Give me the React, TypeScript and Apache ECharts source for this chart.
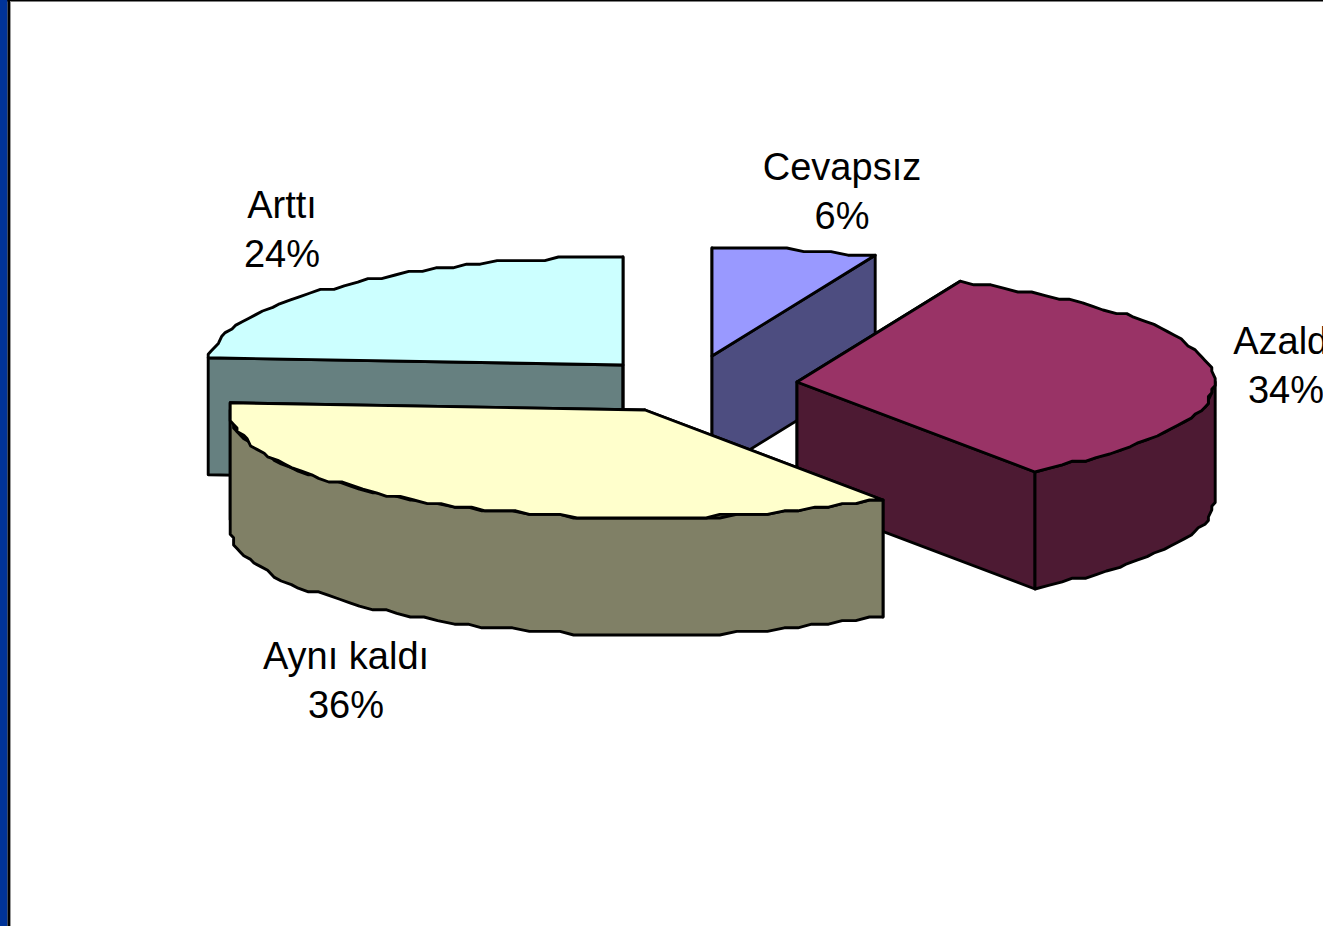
import React, { useEffect, useRef } from "react";
import * as echarts from "echarts";

// Paint order runs from the back of the exploded pie to the front.
const categories = ["Arttı", "Cevapsız", "Azaldı", "Aynı kaldı"];
const shares = [24, 6.4, 33.9, 35.7];
const percentLabels = ["24%", "6%", "34%", "36%"];

const topColors = ["#CCFFFF", "#9999FF", "#993366", "#FFFFCC"];
const sideColors = ["#668080", "#4D4D80", "#4D1A33", "#808066"];
const apexes = [
  [623, 365],
  [712, 356],
  [797, 382],
  [645, 410],
];
const labelCentres = [
  [282, 229.5],
  [842, 191.5],
  [1286, 365.5],
  [346, 680.5],
];

const RX_RIGHT = 417.5;
const RX_LEFT = 415.4;
const RY = 108;
const DEPTH = 117;
const STEP_DEG = 2.25;
const SNAP_X = 3.4;
const SNAP_Y = 3.6;
const W = 1323;
const H = 926;
const total = shares.reduce((a, b) => a + b, 0);
const firstAngle = (-360 * shares[0]) / total;

const rimPoint = (apex: number[], deg: number) => {
  const r = (deg * Math.PI) / 180;
  const sin = Math.sin(r);
  const dx = (sin < 0 ? RX_LEFT : RX_RIGHT) * sin;
  const dy = -RY * Math.cos(r);
  return [
    apex[0] + Math.round(dx / SNAP_X) * SNAP_X,
    apex[1] + Math.round(dy / SNAP_Y) * SNAP_Y,
  ];
};

const arcPoints = (apex: number[], from: number, to: number) => {
  const pts: number[][] = [];
  const n = Math.max(1, Math.ceil((to - from) / STEP_DEG));
  for (let i = 0; i <= n; i++) pts.push(rimPoint(apex, from + ((to - from) * i) / n));
  return pts;
};

const stroke = { stroke: "#000", lineWidth: 2.9, lineJoin: "round" as const };

const renderSlice = (params: any, api: any) => {
  const i = params.dataIndex;
  const value = api.value(0);
  const apex = apexes[i];
  let before = 0;
  for (let k = 0; k < i; k++) before += shares[k];
  const start = firstAngle + (360 * before) / total;
  const end = start + (360 * value) / total;

  const side = { fill: sideColors[i], ...stroke };
  const down = (p: number[]) => [p[0], p[1] + DEPTH];
  const cutFace = (deg: number) => {
    const p = rimPoint(apex, deg);
    return {
      type: "polygon",
      shape: { points: [apex, p, down(p), down(apex)] },
      style: side,
    };
  };

  const children: any[] = [cutFace(start), cutFace(end)];

  // The outer wall shows only on the front half of the ellipse.
  const norm = (d: number) => ((d % 360) + 360) % 360;
  const s = norm(start);
  const e = s + (end - start);
  const rimFrom = Math.max(s, 90);
  const rimTo = Math.min(e, 270);
  if (rimTo > rimFrom) {
    const arc = arcPoints(apex, rimFrom, rimTo);
    children.push({
      type: "polygon",
      shape: { points: [...arc, ...arc.slice().reverse().map(down)] },
      style: side,
    });
  }

  children.push({
    type: "polygon",
    shape: { points: [apex, ...arcPoints(apex, start, end)] },
    style: { fill: topColors[i], ...stroke },
  });

  children.push({
    type: "text",
    z2: 100,
    style: {
      x: labelCentres[i][0],
      y: labelCentres[i][1],
      text: `${categories[i]}\n${percentLabels[i]}`,
      fill: "#000",
      font: '38px "Liberation Sans", Arial, sans-serif',
      lineHeight: 49,
      align: "center",
      verticalAlign: "middle",
    },
  });

  return { type: "group", children };
};

export default function App() {
  const ref = useRef<HTMLDivElement>(null);
  useEffect(() => {
    const chart = echarts.init(ref.current!, undefined, { renderer: "svg" });
    chart.setOption({
      animation: false,
      backgroundColor: "#fff",
      graphic: [
        { type: "rect", shape: { x: 0, y: 0, width: W, height: 1.5 }, style: { fill: "#000" } },
        { type: "rect", shape: { x: 0, y: 0, width: 7.5, height: H }, style: { fill: "#003399" } },
        { type: "rect", shape: { x: 7.5, y: 0, width: 2.5, height: H }, style: { fill: "#000" } },
        { type: "rect", shape: { x: 10, y: 1.5, width: 1, height: H }, style: { fill: "#999" } },
      ],
      series: [
        {
          type: "custom",
          coordinateSystem: "none",
          renderItem: renderSlice,
          data: shares.map((v, i) => ({ name: categories[i], value: [v] })),
        },
      ],
    });
    return () => chart.dispose();
  }, []);
  return (
    <div
      ref={ref}
      style={{ position: "fixed", left: 0, top: 0, width: W, height: H, overflow: "hidden" }}
    />
  );
}
